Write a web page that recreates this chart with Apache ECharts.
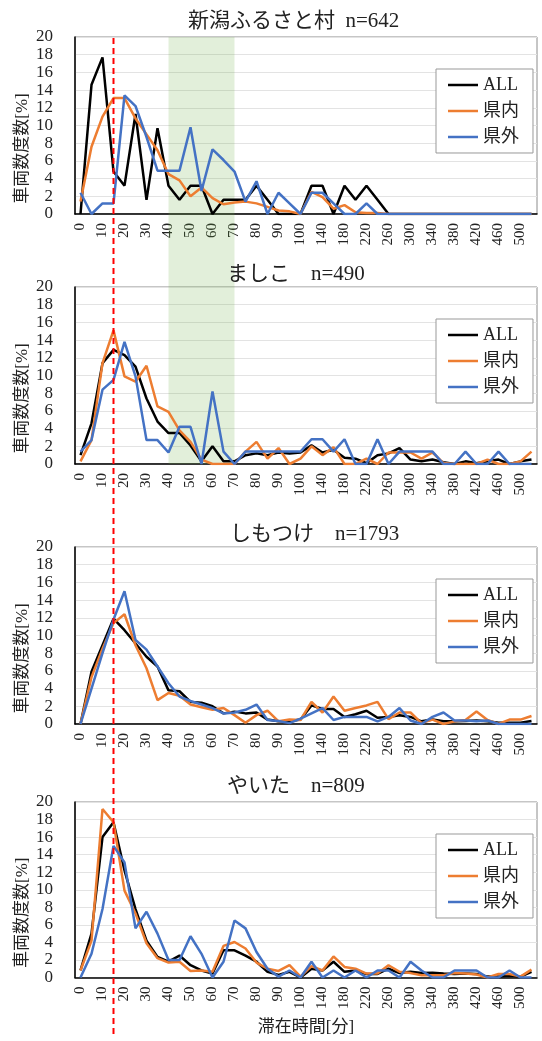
<!DOCTYPE html>
<html>
<head>
<meta charset="utf-8">
<script src="https://cdn.jsdelivr.net/npm/echarts@6/dist/echarts.min.js"></script>
<style>
    html, body { margin: 0; padding: 0; background: #fff; }
    #chart { width: 542px; height: 1041px; }
</style>
</head>
<body>
<div id="chart"></div>
<script>
/**
 * 滞在時間の度数分布 (4 施設)
 */

var FONT = '"Liberation Serif", "Noto Sans CJK JP", serif';

// 横軸カテゴリ [分]
var categories = ['0', '5', '10', '15', '20', '25', '30', '35', '40', '45', '50', '55', '60', '65', '70', '75', '80', '85', '90', '95', '100',
    '120', '140', '160', '180', '200', '220', '240', '260', '280', '300', '320', '340', '360', '380', '400', '420', '440', '460', '480', '500', '520'];
var yTicks = { min: 0, max: 20, interval: 2 };

var seriesNames = ['ALL', '県内', '県外'];
var colors = ['#000000', '#ED7D31', '#4472C4'];
var titles = ['新潟ふるさと村  n=642', 'ましこ　n=490', 'しもつけ　n=1793', 'やいた　n=809'];

// 新潟ふるさと村
var furusatoAll = [0, 14.6, 17.7, 4.8, 3.2, 11.3, 1.6, 9.7, 3.2, 1.6, 3.2, 3.2, 0, 1.6, 1.6, 1.6, 3.2, 1.6, 0,
    0, 0, 3.2, 3.2, 0, 3.2, 1.6, 3.2, 1.6, 0,
    0, 0, 0, 0, 0, 0, 0, 0, 0, 0, 0, 0, 0];
var furusatoIn = [1.4, 7.6, 11.0, 13.1, 13.1, 10.8, 9.0, 7.2, 4.5, 3.8, 2.0, 3.0, 1.8, 1.1, 1.3, 1.4, 1.2, 0.8, 0.4,
    0.3, 0, 2.5, 1.9, 0.6, 1.0, 0.2, 0.1, 0.1, 0,
    0, 0, 0, 0, 0, 0, 0, 0, 0, 0, 0, 0, 0];
var furusatoOut = [2.4, 0, 1.2, 1.2, 13.4, 12.2, 8.7, 4.9, 4.9, 4.9, 9.8, 2.6, 7.3, 6.1, 4.8, 1.4, 3.7, 0, 2.4,
    1.2, 0, 2.4, 2.4, 1.2, 0, 0, 1.2, 0, 0,
    0, 0, 0, 0, 0, 0, 0, 0, 0, 0, 0, 0, 0];

// ましこ
var mashikoAll = [1.0, 4.6, 11.4, 12.9, 12.3, 11.0, 7.4, 4.8, 3.5, 3.5, 2.1, 0.3, 2.0, 0.3, 0.3, 1.0, 1.2, 1.0, 1.3,
    1.2, 1.3, 2.1, 1.3, 1.6, 0.7, 0.6, 0.1, 1.0, 1.2, 1.8, 0.5, 0.3, 0.5, 0.2, 0, 0.3, 0.1, 0.3, 0.5, 0, 0.3, 0.5];
var mashikoIn = [0.3, 2.7, 11.4, 15.1, 9.9, 9.3, 11.1, 6.5, 5.9, 3.8, 2.5, 0.5, 0, 0, 0, 1.4, 2.5, 0.6, 1.8,
    0, 0.6, 2.0, 1.0, 1.9, 0, 0, 0.6, 0, 1.3, 1.3, 1.3, 0.6, 1.3, 0.1, 0, 0, 0, 0.5, 0, 0, 0.3, 1.4];
var mashikoOut = [1.4, 2.7, 8.4, 9.5, 13.8, 9.9, 2.7, 2.7, 1.3, 4.2, 4.2, 0, 8.2, 1.4, 0, 1.4, 1.4, 1.4, 1.4,
    1.4, 1.4, 2.8, 2.8, 1.4, 2.8, 0, 0, 2.8, 0, 1.4, 1.4, 1.4, 1.4, 0, 0, 1.4, 0, 0, 1.4, 0, 0, 0];

// しもつけ
var shimotsukeAll = [0, 5.9, 8.9, 11.9, 10.6, 9.1, 7.6, 6.5, 3.8, 3.7, 2.5, 2.4, 2.0, 1.2, 1.4, 1.2, 1.3, 0.5, 0.3,
    0.3, 0.5, 2.1, 1.7, 1.7, 0.8, 1.1, 1.5, 0.7, 0.8, 1.0, 0.8, 0.3, 0.5, 0.3, 0.3, 0.35, 0.4, 0.3, 0.15, 0.15, 0.15, 0.35];
var shimotsukeIn = [0, 5.3, 8.5, 11.4, 12.4, 8.9, 6.3, 2.7, 3.5, 3.2, 2.2, 1.9, 1.6, 1.8, 1.0, 0.15, 1.0, 1.5, 0.3,
    0.5, 0.45, 2.5, 1.3, 3.1, 1.5, 1.8, 2.1, 2.5, 0.55, 1.3, 1.3, 0.1, 0.5, 0, 0.3, 0.45, 1.4, 0.45, 0, 0.5, 0.5, 0.9];
var shimotsukeOut = [0, 4.0, 8.0, 11.8, 15.0, 9.5, 8.4, 6.5, 4.6, 3.1, 2.6, 2.2, 1.8, 1.2, 1.3, 1.6, 2.2, 0.45, 0.35,
    0.1, 0.6, 1.2, 1.8, 0.45, 0.8, 0.8, 0.8, 0.3, 0.8, 1.8, 0.4, 0, 0.8, 1.3, 0.4, 0.4, 0.3, 0.4, 0, 0, 0, 0];

// やいた
var yaitaAll = [0.8, 5.0, 16.0, 17.7, 12.2, 7.8, 4.2, 2.35, 1.8, 2.5, 1.4, 0.8, 0.45, 3.1, 3.1, 2.5, 1.8, 0.65, 0.3,
    0.65, 0, 1.0, 0.8, 1.8, 0.65, 0.8, 0.4, 0.4, 1.0, 0.5, 0.65, 0.5, 0.55, 0.45, 0.4, 0.45, 0.4, 0.1, 0.1, 0.2, 0.1, 0.65];
var yaitaIn = [0.8, 4.2, 19.2, 17.7, 9.9, 7.3, 3.9, 2.2, 1.7, 1.8, 0.75, 0.8, 0.65, 3.6, 4.05, 3.3, 1.7, 1.0, 0.75,
    1.4, 0.1, 1.3, 0.8, 2.4, 1.2, 1.0, 0.45, 0.45, 1.4, 0.65, 0.5, 0.25, 0.25, 0.25, 0.5, 0.45, 0.35, 0, 0.4, 0.4, 0.1, 0.9];
var yaitaOut = [0, 2.7, 7.8, 15.0, 13.1, 5.6, 7.5, 5.0, 2.0, 2.0, 4.7, 2.7, 0, 1.8, 6.5, 5.6, 2.9, 1.0, 0.1,
    0.8, 0, 1.8, 0, 0.8, 0, 0.8, 0, 0.8, 0.8, 0, 1.8, 0.8, 0, 0, 0.8, 0.8, 0.8, 0, 0, 0.8, 0, 0];

var panelData = [
    [furusatoAll, furusatoIn, furusatoOut],
    [mashikoAll, mashikoIn, mashikoOut],
    [shimotsukeAll, shimotsukeIn, shimotsukeOut],
    [yaitaAll, yaitaIn, yaitaOut]
];

// 目安線・帯
var refLine = '15';
var bandFrom = '40', bandTo = '70';

// レイアウト
var gridTops = [37, 287, 547, 802];
var gridHeights = [177, 177, 177, 175.5];
var titleLeft = [188, 227, 230, 227];
var titleMid = [22, 275, 535, 787];

var chart = echarts.init(document.getElementById('chart'));

function buildOption() {
    var option = {
        animation: false,
        backgroundColor: '#fff',
        title: [], grid: [], xAxis: [], yAxis: [], legend: [], series: []
    };

    panelData.forEach(function (list, p) {
        option.title.push({
            text: titles[p],
            left: titleLeft[p],
            top: titleMid[p] - 11,
            padding: 0,
            textStyle: { fontFamily: FONT, fontSize: 21, fontWeight: 'normal', color: '#222' }
        });
        option.grid.push({
            left: 75, right: 5, top: gridTops[p], height: gridHeights[p],
            show: true, borderColor: '#8c8c8c', borderWidth: 1
        });
        var xa = {
            type: 'category', gridIndex: p, data: categories, boundaryGap: true,
            axisLine: { lineStyle: { color: '#000', width: 1.5 } },
            axisTick: { inside: true, alignWithLabel: true, interval: 0, length: 5, lineStyle: { color: '#000', width: 1.2 } },
            axisLabel: { rotate: 90, interval: 1, fontFamily: FONT, fontSize: 15, color: '#222', margin: 9 },
            splitLine: { show: false }
        };
        if (p == 3) {
            xa.name = '滞在時間[分]';
            xa.nameLocation = 'middle';
            xa.nameGap = 42;
            xa.nameTextStyle = { fontFamily: FONT, fontSize: 17, color: '#222' };
        }
        option.xAxis.push(xa);
        option.yAxis.push({
            type: 'value', gridIndex: p, min: yTicks.min, max: yTicks.max, interval: yTicks.interval,
            axisLine: { show: true, lineStyle: { color: '#000', width: 1.5 } },
            axisTick: { show: false },
            axisLabel: { fontFamily: FONT, fontSize: 17, color: '#222', margin: 22 },
            splitLine: { lineStyle: { color: '#e3e3e3', width: 1 } }
        });
        // 凡例: 線のみ
        option.legend.push({
            data: seriesNames,
            orient: 'vertical',
            left: 436, top: gridTops[p] + 32,
            icon: 'rect',
            itemWidth: 30, itemHeight: 2.5, itemGap: 8,
            padding: [7, 14, 7, 12],
            borderColor: '#999', borderWidth: 1, backgroundColor: '#fff',
            selectedMode: false,
            textStyle: { fontFamily: FONT, fontSize: 18, color: '#222' }
        });
        list.forEach(function (data, s) {
            option.series.push({
                type: 'line', name: seriesNames[s],
                xAxisIndex: p, yAxisIndex: p,
                data: data,
                symbol: 'none',
                lineStyle: { color: colors[s], width: 2.5 },
                itemStyle: { color: colors[s] }
            });
        });
    });
    return option;
}

chart.setOption(buildOption());

// 帯・赤破線・縦軸名
function renderGraphic() {
    var xRed = chart.convertToPixel({ xAxisIndex: 0 }, refLine);
    var xB1 = chart.convertToPixel({ xAxisIndex: 0 }, bandFrom);
    var xB2 = chart.convertToPixel({ xAxisIndex: 0 }, bandTo);
    var yB1 = chart.convertToPixel({ yAxisIndex: 0 }, yTicks.max);
    var yB2 = chart.convertToPixel({ yAxisIndex: 1 }, yTicks.min);

    var graphic = [
        {
            type: 'rect', silent: true, z: 1,
            shape: { x: xB1, y: yB1, width: xB2 - xB1, height: yB2 - yB1 },
            style: { fill: 'rgba(112,173,71,0.2)' }
        },
        {
            type: 'line', silent: true, z: 100,
            shape: { x1: xRed, y1: 38, x2: xRed, y2: 1037 },
            style: { stroke: '#ff0000', lineWidth: 2, lineDash: [6, 4] }
        }
    ];
    gridTops.forEach(function (top, p) {
        graphic.push({
            type: 'text', silent: true,
            x: 23, y: top + gridHeights[p] / 2 + 23,
            rotation: Math.PI / 2,
            style: {
                text: '車両数度数[%]', fill: '#222',
                font: '17px ' + FONT,
                textAlign: 'center', textVerticalAlign: 'middle'
            }
        });
    });
    chart.setOption({ graphic: graphic });
}

renderGraphic();
</script>
</body>
</html>
